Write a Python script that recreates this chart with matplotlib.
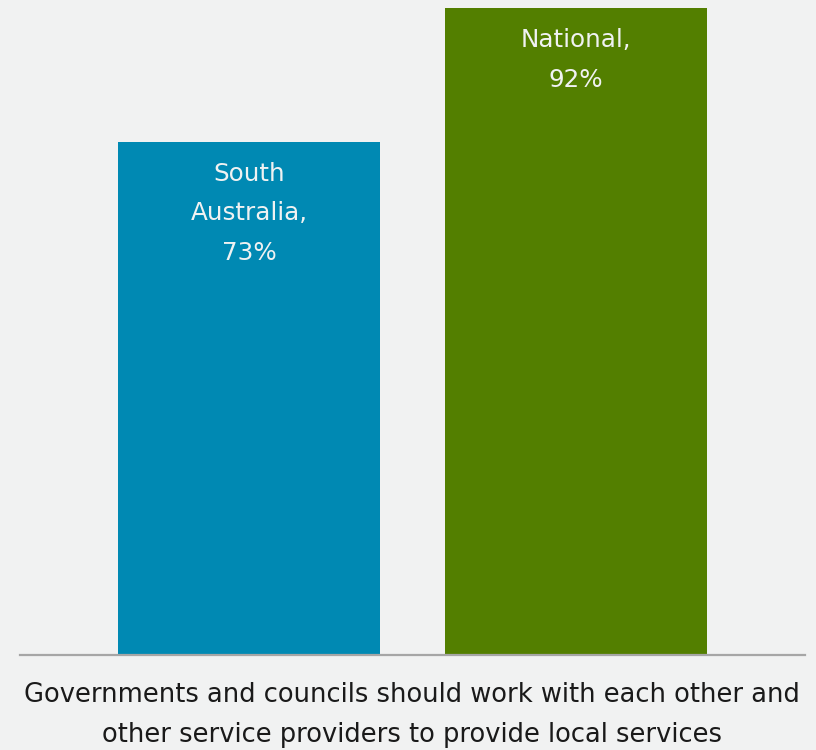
import matplotlib.pyplot as plt

categories = ['South\nAustralia,', 'National,']
values = [73, 92]
bar_colors = ['#0089b3', '#537f00']
x_label = 'Governments and councils should work with each other and\nother service providers to provide local services'

bg = '#f1f2f2'

fig = plt.figure(figsize=(8.16, 7.5), dpi=100)
fig.patch.set_facecolor(bg)
ax = fig.add_axes([20 / 816, 95 / 750, 785 / 816, 655 / 750])
ax.set_facecolor(bg)

pos = list(range(len(values)))
bars = ax.bar(pos, values, width=0.80, color=bar_colors, zorder=2)

# labels inside the top of each bar
for p, v, c in zip(pos, values, categories):
    ax.annotate(f'{c}\n{v}%', xy=(p, v), xytext=(0, -14.5), textcoords='offset points',
                ha='center', va='top', fontsize=17.7, color='#f0f2f2',
                linespacing=1.82, family='DejaVu Sans')

ax.set_xlim(-0.70, 1.70)
ax.set_ylim(0, 92 * 655 / 647)

for s in ['top', 'right', 'left']:
    ax.spines[s].set_visible(False)
ax.spines['bottom'].set_color('#a6a6a6')
ax.spines['bottom'].set_linewidth(1.6)
ax.set_xticks([])
ax.set_yticks([])

fig.text(412 / 816, 1 - 715 / 750, x_label, ha='center', va='center',
         fontsize=18.5, color='#1a1a1a', linespacing=1.75, family='DejaVu Sans')

fig.savefig('out.png', dpi=100, facecolor=bg)
